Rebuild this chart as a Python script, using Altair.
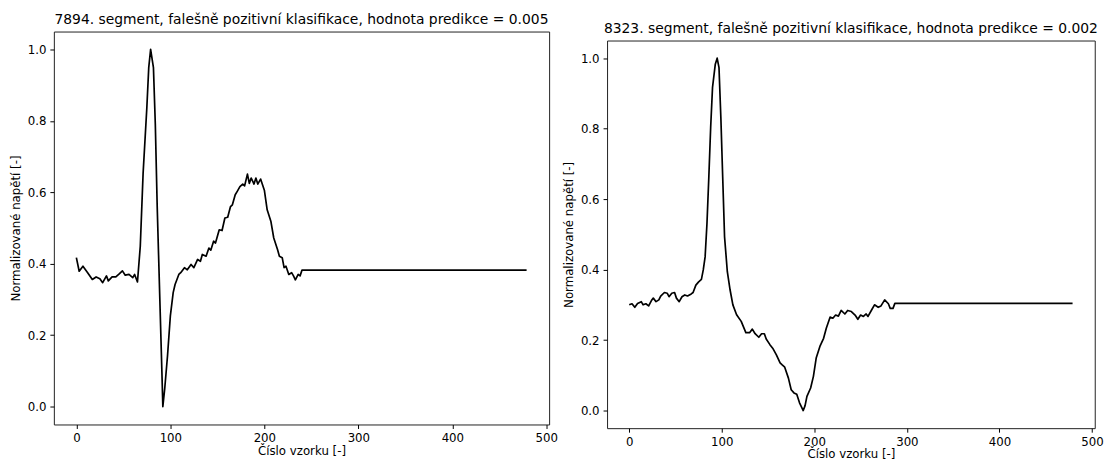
import altair as alt
import pandas as pd

# ---- data ----
left_title = "7894. segment, falešně pozitivní klasifikace, hodnota predikce = 0.005"
right_title = "8323. segment, falešně pozitivní klasifikace, hodnota predikce = 0.002"
x_label = "Číslo vzorku [-]"
y_label = "Normalizované napětí [-]"

x_ticks = [0, 100, 200, 300, 400, 500]
y_ticks = [0.0, 0.2, 0.4, 0.6, 0.8, 1.0]

left_s = [0, 3, 7, 12, 17, 21, 25, 28, 32, 34, 38, 42, 45, 49, 52, 56, 60, 62, 65,
          68, 71, 75, 77, 79, 82, 84, 86, 89, 91, 92, 94, 97, 100, 103, 105, 109,
          111, 115, 118, 122, 125, 129, 132, 134, 138, 141, 143, 146, 148, 152,
          155, 158, 161, 164, 166, 169, 171, 174, 177, 179, 182, 184, 186, 189,
          191, 193, 196, 200, 203, 207, 210, 214, 216, 219, 221, 223, 226, 229,
          231, 233, 236, 238, 240, 479]
left_v = [0.417, 0.379, 0.393, 0.375, 0.356, 0.363, 0.358, 0.347, 0.366, 0.352,
          0.363, 0.363, 0.370, 0.380, 0.368, 0.370, 0.361, 0.370, 0.349,
          0.449, 0.653, 0.838, 0.949, 1.000, 0.949, 0.790, 0.560, 0.282, 0.097,
          0.000, 0.050, 0.143, 0.254, 0.319, 0.342, 0.370, 0.375, 0.389, 0.383,
          0.398, 0.389, 0.412, 0.407, 0.426, 0.421, 0.444, 0.438, 0.463, 0.458,
          0.495, 0.493, 0.528, 0.530, 0.560, 0.565, 0.593, 0.602, 0.616, 0.623,
          0.618, 0.651, 0.625, 0.640, 0.623, 0.640, 0.623, 0.637, 0.606, 0.551,
          0.518, 0.472, 0.440, 0.421, 0.417, 0.389, 0.393, 0.370, 0.375, 0.366,
          0.355, 0.370, 0.366, 0.382, 0.382]

right_s = [0, 3, 6, 9, 13, 15, 18, 21, 24, 26, 29, 32, 34, 38, 41, 43, 46, 49, 51,
           54, 57, 60, 63, 67, 69, 72, 75, 78, 80, 82, 84, 86, 88, 90, 93, 95, 97,
           99, 101, 103, 106, 109, 112, 116, 121, 126, 130, 133, 136, 140, 143,
           146, 148, 152, 155, 159, 163, 165, 168, 172, 175, 178, 181, 184, 188,
           190, 192, 196, 199, 202, 206, 210, 213, 217, 220, 223, 226, 229, 233,
           236, 240, 244, 247, 250, 253, 256, 258, 262, 265, 269, 272, 276, 280,
           282, 285, 287, 479]
right_v = [0.300, 0.303, 0.293, 0.304, 0.309, 0.300, 0.303, 0.297, 0.312, 0.319,
           0.309, 0.314, 0.325, 0.335, 0.333, 0.323, 0.333, 0.335, 0.319, 0.309,
           0.323, 0.328, 0.325, 0.331, 0.335, 0.356, 0.365, 0.372, 0.399, 0.436,
           0.531, 0.662, 0.804, 0.917, 0.983, 1.000, 0.973, 0.832, 0.662, 0.493,
           0.394, 0.342, 0.300, 0.272, 0.253, 0.221, 0.221, 0.231, 0.218, 0.208,
           0.218, 0.218, 0.203, 0.187, 0.177, 0.158, 0.135, 0.130, 0.123, 0.092,
           0.059, 0.050, 0.046, 0.022, 0.000, 0.014, 0.040, 0.064, 0.097, 0.149,
           0.182, 0.205, 0.234, 0.265, 0.262, 0.271, 0.268, 0.284, 0.274, 0.284,
           0.281, 0.271, 0.259, 0.271, 0.267, 0.274, 0.267, 0.286, 0.300, 0.293,
           0.297, 0.314, 0.303, 0.290, 0.290, 0.304, 0.304]

FONT = "DejaVu Sans"


def panel(xs, ys, title, w, h):
    df = pd.DataFrame({"s": xs, "v": ys})
    return (
        alt.Chart(df)
        .mark_line(color="black", strokeWidth=1.7, strokeJoin="round", clip=True)
        .encode(
            x=alt.X(
                "s:Q",
                scale=alt.Scale(domain=[-23.95, 502.95], nice=False, zero=False),
                axis=alt.Axis(values=x_ticks, format="d", title=x_label, titlePadding=1),
            ),
            y=alt.Y(
                "v:Q",
                scale=alt.Scale(domain=[-0.05, 1.05], nice=False, zero=False),
                axis=alt.Axis(values=y_ticks, format=".1f", title=y_label, titlePadding=6),
            ),
        )
        .properties(
            width=w,
            height=h,
            title=alt.TitleParams(
                text=title,
                font=FONT,
                fontSize=13.9,
                fontWeight="normal",
                color="black",
                anchor="middle",
                frame="group",
                baseline="alphabetic",
                offset=-6,
            ),
            view=alt.ViewBackground(stroke="#222222", strokeWidth=1),
        )
    )


left = panel(left_s, left_v, left_title, 496.6, 394)
right = panel(right_s, right_v, right_title, 489, 388.7)

spacer = (
    alt.Chart(pd.DataFrame({"a": [0]}))
    .mark_point(opacity=0)
    .properties(width=489, height=8.3, view=alt.ViewBackground(stroke="transparent"))
)

chart = (
    alt.hconcat(
        left,
        alt.vconcat(spacer, right, spacing=0, bounds="flush"),
        spacing=57.7,
        bounds="flush",
    )
    .properties(padding={"left": 9, "top": 11, "right": 4, "bottom": 4}, background="white")
    .configure_axis(
        domain=False,
        grid=False,
        ticks=True,
        tickSize=4,
        tickColor="black",
        tickWidth=1,
        labelFont=FONT,
        labelFontSize=11.8,
        labelColor="black",
        labelPadding=4,
        titleFont=FONT,
        titleFontSize=11.8,
        titleFontWeight="normal",
        titleColor="black",
    )
)

chart.save("out.html", embed_options={"renderer": "svg", "actions": False})
